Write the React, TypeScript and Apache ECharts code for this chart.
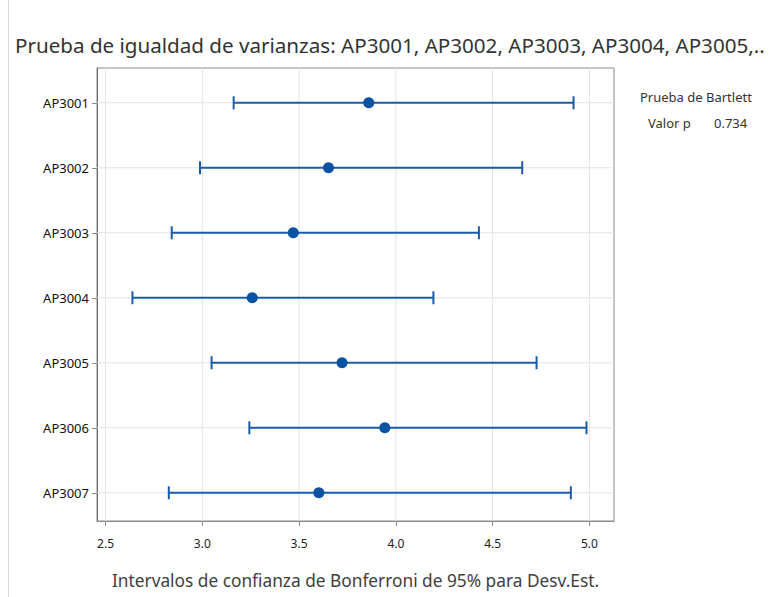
import React, { useEffect, useRef } from "react";
import * as echarts from "echarts";

const categories = ["AP3001", "AP3002", "AP3003", "AP3004", "AP3005", "AP3006", "AP3007"];
const lowerCI = [3.162, 2.988, 2.842, 2.639, 3.048, 3.243, 2.827];
const sigma = [3.86, 3.652, 3.47, 3.258, 3.722, 3.943, 3.602];
const upperCI = [4.918, 4.653, 4.429, 4.194, 4.727, 4.985, 4.904];
const xTicks = [2.5, 3.0, 3.5, 4.0, 4.5, 5.0];
const rowTicks = [0, 1, 2, 3, 4, 5, 6];

const titleText = "Prueba de igualdad de varianzas: AP3001, AP3002, AP3003, AP3004, AP3005,..";
const xName = "Intervalos de confianza de Bonferroni de 95% para Desv.Est.";
const testName = "Prueba de Bartlett";
const pLabel = "Valor p";
const pValue = "0.734";

const BLUE = "#1a5caa";
const DOT = "#0a52a3";
const GRIDC = "#e3e3e3";
const FONT = "'Noto Sans', 'Open Sans', sans-serif";

export default function App() {
  const ref = useRef<HTMLDivElement>(null);
  useEffect(() => {
    document.body.style.margin = "0";
    const chart = echarts.init(ref.current!, null, { renderer: "svg" });
    const option: any = {
      animation: false,
      backgroundColor: "#ffffff",
      textStyle: { fontFamily: FONT },
      title: {
        text: titleText,
        left: 10,
        top: 29,
        textStyle: { fontSize: 20.6, fontWeight: "normal", color: "#333333", fontFamily: FONT },
      },
      grid: {
        left: 97,
        right: 155,
        top: 68,
        bottom: 76,
        show: true,
        borderColor: "#8a8a8a",
        borderWidth: 1,
        backgroundColor: "#ffffff",
      },
      xAxis: {
        type: "value",
        min: 2.456,
        max: 5.127,
        name: xName,
        nameLocation: "middle",
        nameGap: 51,
        nameTextStyle: { fontSize: 17.3, color: "#404040", fontFamily: FONT },
        axisLine: { show: true, onZero: false, lineStyle: { color: "#8a8a8a" } },
        axisTick: { show: true, length: 5, customValues: xTicks, lineStyle: { color: "#8a8a8a" } },
        axisLabel: {
          customValues: xTicks,
          formatter: (v: number) => v.toFixed(1),
          fontSize: 12,
          color: "#222222",
          margin: 16,
        },
        splitLine: { show: false },
      },
      yAxis: {
        type: "value",
        inverse: true,
        min: -0.535,
        max: 6.434,
        axisLine: { show: true, onZero: false, lineStyle: { color: "#6a6a6a" } },
        axisTick: { show: true, length: 5, customValues: rowTicks, lineStyle: { color: "#8a8a8a" } },
        axisLabel: {
          customValues: rowTicks,
          formatter: (v: number) => categories[Math.round(v)] ?? "",
          fontSize: 13,
          color: "#111111",
          margin: 8,
        },
        splitLine: { show: false },
      },
      graphic: [
        { type: "line", shape: { x1: 8.5, y1: 0, x2: 8.5, y2: 597 }, style: { stroke: "#d8d8d8", lineWidth: 1 } },
        { type: "text", left: 640, top: 90, style: { text: testName, fontSize: 13, fill: "#333333", fontFamily: FONT } },
        { type: "text", left: 648, top: 116, style: { text: pLabel, fontSize: 13, fill: "#333333", fontFamily: FONT } },
        { type: "text", left: 714, top: 116, style: { text: pValue, fontSize: 13, fill: "#333333", fontFamily: FONT } },
      ],
      series: [
        {
          type: "custom",
          silent: true,
          z: 1,
          data: xTicks.map((v) => [v, 0]),
          renderItem: (params: any, api: any) => {
            const x = api.coord([api.value(0), 0])[0];
            const cs = params.coordSys;
            return {
              type: "line",
              shape: { x1: x, y1: cs.y, x2: x, y2: cs.y + cs.height },
              style: { stroke: GRIDC, lineWidth: 1 },
            };
          },
        },
        {
          type: "custom",
          silent: true,
          z: 1,
          data: rowTicks.map((i) => [3, i]),
          renderItem: (params: any, api: any) => {
            const y = api.coord([3, api.value(1)])[1];
            const cs = params.coordSys;
            return {
              type: "line",
              shape: { x1: cs.x, y1: y, x2: cs.x + cs.width, y2: y },
              style: { stroke: GRIDC, lineWidth: 1 },
            };
          },
        },
        {
          type: "custom",
          z: 3,
          data: categories.map((c, i) => [lowerCI[i], upperCI[i], i]),
          renderItem: (params: any, api: any) => {
            const p1 = api.coord([api.value(0), api.value(2)]);
            const p2 = api.coord([api.value(1), api.value(2)]);
            const h = 6.5;
            const st = { stroke: BLUE, lineWidth: 2 };
            return {
              type: "group",
              children: [
                { type: "line", shape: { x1: p1[0], y1: p1[1], x2: p2[0], y2: p2[1] }, style: st },
                { type: "line", shape: { x1: p1[0], y1: p1[1] - h, x2: p1[0], y2: p1[1] + h }, style: st },
                { type: "line", shape: { x1: p2[0], y1: p2[1] - h, x2: p2[0], y2: p2[1] + h }, style: st },
              ],
            };
          },
        },
        {
          type: "scatter",
          z: 4,
          symbol: "circle",
          symbolSize: 11,
          itemStyle: { color: DOT, opacity: 1 },
          data: sigma.map((v, i) => [v, i]),
        },
      ],
    };
    chart.setOption(option);
    return () => chart.dispose();
  }, []);
  return <div ref={ref} style={{ width: 769, height: 597 }} />;
}
